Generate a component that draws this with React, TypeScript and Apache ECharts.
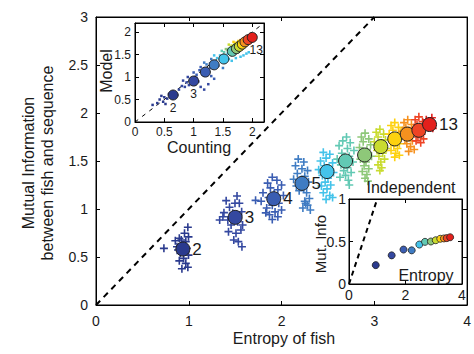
import React, { useEffect, useRef } from "react";
import * as echarts from "echarts";

// ---------- data ----------
const clusterIds = [2, 3, 4, 5, 6, 7, 8, 9, 10, 11, 12, 13];
const clusterColors = [
  "#2a3a8e", "#3448a0", "#3a5db2", "#3f7cc3", "#44c3ea", "#62c9b4",
  "#8ec879", "#c9db30", "#fdd10f", "#f6911f", "#ee4425", "#e3201c",
];
const labeledMain = [2, 3, 4, 5, 13];
const labeledInset = [2, 3, 13];

// main panel: cluster means (entropy of fish, mutual information)
const meanEntropy = [0.936, 1.5, 1.916, 2.22, 2.49, 2.69, 2.895, 3.07, 3.22, 3.355, 3.48, 3.595];
const meanMI = [0.583, 0.913, 1.107, 1.267, 1.39, 1.5, 1.5625, 1.65, 1.73, 1.78, 1.82, 1.88];

// top-left inset: counting vs model
const countingMI = [0.65, 1.0, 1.2, 1.35, 1.515, 1.66, 1.73, 1.78, 1.83, 1.875, 1.93, 2.0];
const modelMI = [0.6, 0.91, 1.11, 1.27, 1.4, 1.57, 1.63, 1.68, 1.73, 1.78, 1.83, 1.88];

// bottom-right inset: independent model
const indepEntropy = [0.946, 1.51, 1.93, 2.22, 2.49, 2.69, 2.9, 3.07, 3.23, 3.36, 3.46, 3.58];
const indepMI = [0.222, 0.337, 0.405, 0.396, 0.464, 0.496, 0.5, 0.515, 0.532, 0.536, 0.54, 0.55];

// main panel: individual samples (plus markers)
const samples2 = [[0.99, 0.81], [0.954, 0.747], [0.898, 0.695], [0.855, 0.67], [0.997, 0.71], [0.968, 0.66], [0.926, 0.625], [0.873, 0.607], [0.979, 0.59], [0.909, 0.538], [0.997, 0.52], [0.944, 0.486], [0.898, 0.46], [0.968, 0.434], [0.926, 0.378], [0.99, 0.393], [0.884, 0.573], [0.962, 0.555], [0.919, 0.677], [0.732, 0.59]];
const samples3 = [[1.403, 1.087], [1.52, 1.135], [1.545, 1.06], [1.439, 1.018], [1.379, 0.962], [1.333, 0.885], [1.474, 0.955], [1.57, 0.972], [1.421, 0.885], [1.527, 0.868], [1.58, 0.833], [1.456, 0.833], [1.428, 0.764], [1.509, 0.747], [1.562, 0.781], [1.485, 0.677], [1.573, 0.607], [1.534, 0.66], [1.368, 0.92], [1.498, 1.06]];
const samples4 = [[1.9, 1.33], [1.95, 1.3], [1.85, 1.27], [2.0, 1.25], [1.88, 1.22], [1.96, 1.2], [1.8, 1.17], [1.92, 1.16], [2.02, 1.14], [1.86, 1.12], [1.78, 1.08], [1.97, 1.06], [1.9, 1.04], [1.84, 1.01], [2.0, 0.99], [1.93, 0.97], [1.87, 0.94], [1.96, 0.92], [1.9, 0.89], [1.83, 0.96], [1.72, 1.09]];
const samples5 = [[2.18, 1.52], [2.24, 1.49], [2.15, 1.45], [2.22, 1.42], [2.28, 1.4], [2.17, 1.37], [2.25, 1.34], [2.13, 1.31], [2.21, 1.3], [2.29, 1.28], [2.16, 1.24], [2.24, 1.22], [2.19, 1.19], [2.27, 1.17], [2.3, 1.11], [2.25, 1.08], [2.28, 1.04], [2.23, 1.01], [2.31, 0.99], [2.26, 1.06]];
const samples6 = [[2.45, 1.59], [2.52, 1.57], [2.48, 1.53], [2.42, 1.5], [2.55, 1.48], [2.46, 1.45], [2.51, 1.43], [2.4, 1.41], [2.56, 1.38], [2.44, 1.35], [2.5, 1.32], [2.47, 1.28], [2.53, 1.25], [2.49, 1.21], [2.45, 1.17], [2.52, 1.14], [2.48, 1.1], [2.55, 1.12], [2.43, 1.24]];
const samples7 = [[2.7, 1.75], [2.66, 1.71], [2.74, 1.69], [2.62, 1.66], [2.71, 1.63], [2.78, 1.61], [2.65, 1.58], [2.73, 1.55], [2.6, 1.52], [2.77, 1.49], [2.64, 1.46], [2.71, 1.43], [2.67, 1.4], [2.75, 1.38], [2.69, 1.35], [2.63, 1.33], [2.72, 1.3], [2.73, 1.25]];
const samples8 = [[2.9, 1.79], [2.86, 1.75], [2.94, 1.73], [2.88, 1.7], [2.96, 1.67], [2.84, 1.64], [2.92, 1.62], [2.87, 1.58], [2.97, 1.55], [2.85, 1.52], [2.91, 1.49], [2.89, 1.45], [2.94, 1.42], [2.87, 1.39], [2.92, 1.36], [2.9, 1.32], [2.93, 1.29]];
const samples9 = [[3.06, 1.83], [3.02, 1.8], [3.1, 1.78], [3.04, 1.75], [3.12, 1.72], [3.0, 1.7], [3.08, 1.68], [3.13, 1.63], [3.03, 1.61], [3.09, 1.58], [3.05, 1.55], [3.11, 1.52], [3.07, 1.49], [3.04, 1.46], [3.08, 1.43], [3.06, 1.4]];
const samples10 = [[3.22, 1.9], [3.18, 1.87], [3.26, 1.85], [3.2, 1.82], [3.28, 1.8], [3.16, 1.78], [3.24, 1.76], [3.19, 1.7], [3.27, 1.68], [3.21, 1.66], [3.25, 1.63], [3.18, 1.61], [3.23, 1.58], [3.27, 1.56], [3.22, 1.54]];
const samples11 = [[3.36, 1.93], [3.32, 1.9], [3.4, 1.88], [3.34, 1.85], [3.42, 1.83], [3.3, 1.81], [3.38, 1.76], [3.33, 1.73], [3.41, 1.71], [3.35, 1.68], [3.39, 1.65], [3.43, 1.62], [3.37, 1.6]];
const samples12 = [[3.48, 1.96], [3.44, 1.93], [3.52, 1.91], [3.46, 1.88], [3.54, 1.86], [3.43, 1.84], [3.51, 1.78], [3.47, 1.75], [3.53, 1.73], [3.45, 1.71], [3.5, 1.69]];
const samples13 = [[3.56, 1.93], [3.62, 1.95], [3.58, 1.85], [3.63, 1.84]];
const samples = [samples2, samples3, samples4, samples5, samples6, samples7, samples8, samples9, samples10, samples11, samples12, samples13];

// top-left inset: individual (counting, model) estimates
const insetDots2 = [[0.3, 0.38], [0.38, 0.42], [0.42, 0.5], [0.48, 0.45], [0.5, 0.55], [0.55, 0.52], [0.58, 0.62], [0.62, 0.55], [0.68, 0.66], [0.72, 0.6], [0.45, 0.58], [0.52, 0.4]];
const insetDots3 = [[0.75, 0.72], [0.8, 0.8], [0.85, 0.78], [0.88, 0.88], [0.92, 0.82], [0.95, 0.96], [1.0, 0.86], [1.05, 0.98], [1.08, 0.9], [1.12, 0.78], [0.9, 1.0], [0.82, 0.92], [1.18, 0.72], [1.25, 0.84]];
const insetDots4 = [[1.05, 1.05], [1.1, 1.15], [1.15, 1.05], [1.2, 1.18], [1.25, 1.08], [1.28, 1.2], [1.12, 1.22], [1.3, 1.02], [1.0, 1.1], [1.35, 0.96]];
const insetDots5 = [[1.22, 1.28], [1.28, 1.3], [1.32, 1.22], [1.38, 1.34], [1.42, 1.25], [1.45, 1.38], [1.3, 1.4], [1.5, 1.2], [1.18, 1.32]];
const insetDots6 = [[1.4, 1.42], [1.45, 1.48], [1.5, 1.36], [1.55, 1.46], [1.6, 1.4], [1.35, 1.48], [1.65, 1.36], [1.72, 1.42], [1.8, 1.45], [1.85, 1.48], [1.58, 1.52], [1.9, 1.52], [1.94, 1.55]];
const insetDots7 = [[1.52, 1.55], [1.58, 1.6], [1.62, 1.52], [1.68, 1.62], [1.75, 1.55], [1.48, 1.58]];
const insetDots8 = [[1.6, 1.63], [1.65, 1.68], [1.7, 1.6], [1.55, 1.62]];
const insetDots9 = [[1.65, 1.7], [1.7, 1.74], [1.75, 1.66], [1.6, 1.72]];
const insetDots10 = [[1.72, 1.76], [1.76, 1.8], [1.8, 1.7], [1.68, 1.78]];
const insetDots11 = [[1.8, 1.82], [1.85, 1.78]];
const insetDots12 = [[1.88, 1.86]];
const insetDots13 = [[1.95, 1.9]];
const insetDots = [insetDots2, insetDots3, insetDots4, insetDots5, insetDots6, insetDots7, insetDots8, insetDots9, insetDots10, insetDots11, insetDots12, insetDots13];

// ---------- chart ----------
const FONT = "Liberation Sans, Arial, Helvetica, sans-serif";
const TXT = "#1a1a1a";
const PLUS = "path://M4,0H6V4H10V6H6V10H4V6H0V4H4Z";

function boxAxes(gridIndex: number, min: number, max: number, interval: number, kind: "x" | "y", z: number) {
  const base = {
    gridIndex,
    type: "value",
    min,
    max,
    interval,
    z,
    splitLine: { show: false },
    axisLine: { show: true, onZero: false, lineStyle: { color: "#000", width: 1 } },
    axisTick: { show: true, inside: true, length: 4, lineStyle: { color: "#000" } },
  };
  return [
    { ...base, position: kind === "x" ? "bottom" : "left" },
    { ...base, position: kind === "x" ? "top" : "right", axisLabel: { show: false } },
  ];
}

export default function App() {
  const ref = useRef<HTMLDivElement>(null);
  useEffect(() => {
    if (!ref.current) return;
    const chart = echarts.init(ref.current, undefined, { renderer: "svg" });

    const xAxes: any[] = [];
    const yAxes: any[] = [];
    const mx = boxAxes(0, 0, 4, 1, "x", 0);
    (mx[0] as any).axisLabel = { color: TXT, fontSize: 14, margin: 9, fontFamily: FONT };
    const my = boxAxes(0, 0, 3, 0.5, "y", 0);
    (my[0] as any).axisLabel = { color: TXT, fontSize: 14, margin: 8, fontFamily: FONT };
    const tx = boxAxes(1, 0, 2.2, 0.5, "x", 10);
    (tx[0] as any).axisLabel = { color: TXT, fontSize: 12, margin: 4, fontFamily: FONT, showMaxLabel: false };
    const ty = boxAxes(1, 0, 2.2, 0.5, "y", 10);
    (ty[0] as any).axisLabel = { color: TXT, fontSize: 12, margin: 4, fontFamily: FONT, showMaxLabel: false };
    const bx = boxAxes(2, 0, 4, 2, "x", 10);
    (bx[0] as any).axisLabel = { color: TXT, fontSize: 14, margin: 4, fontFamily: FONT };
    const by = boxAxes(2, 0, 1, 0.5, "y", 10);
    (by[0] as any).axisLabel = { color: TXT, fontSize: 14, margin: 3, fontFamily: FONT };
    xAxes.push(...mx, ...tx, ...bx);
    yAxes.push(...my, ...ty, ...by);

    const series: any[] = [];
    series.push({
      type: "line",
      xAxisIndex: 0,
      yAxisIndex: 0,
      data: [[0, 0], [3, 3]],
      showSymbol: false,
      lineStyle: { color: "#000", width: 2, type: [6, 5] },
      z: 1,
    });
    samples.forEach((pts, i) => {
      series.push({
        type: "scatter",
        xAxisIndex: 0,
        yAxisIndex: 0,
        data: pts,
        symbol: PLUS,
        symbolSize: 8,
        itemStyle: { color: clusterColors[i], opacity: 1 },
        z: 2,
      });
    });
    series.push({
      type: "scatter",
      xAxisIndex: 0,
      yAxisIndex: 0,
      z: 3,
      symbolSize: 14,
      data: meanEntropy.map((x, i) => ({
        value: [x, meanMI[i]],
        itemStyle: { color: clusterColors[i], borderColor: "#222", borderWidth: 1, opacity: 1 },
        label: {
          show: labeledMain.includes(clusterIds[i]),
          formatter: String(clusterIds[i]),
          position: "right",
          distance: 2,
          fontSize: 17,
          color: TXT,
          opacity: 1,
          fontFamily: FONT,
        },
      })),
    });

    series.push({
      type: "line",
      xAxisIndex: 2,
      yAxisIndex: 2,
      data: [[0, 0], [2.2, 2.2]],
      showSymbol: false,
      lineStyle: { color: "#000", width: 1, type: [4, 5] },
      z: 11,
    });
    insetDots.forEach((pts, i) => {
      series.push({
        type: "scatter",
        xAxisIndex: 2,
        yAxisIndex: 2,
        data: pts,
        symbol: "rect",
        symbolSize: 2.5,
        itemStyle: { color: clusterColors[i], opacity: 1 },
        z: 12,
      });
    });
    series.push({
      type: "scatter",
      xAxisIndex: 2,
      yAxisIndex: 2,
      z: 13,
      symbolSize: 10,
      data: countingMI.map((x, i) => ({
        value: [x, modelMI[i]],
        itemStyle: { color: clusterColors[i], borderColor: "#222", borderWidth: 1, opacity: 1 },
        label: {
          show: labeledInset.includes(clusterIds[i]),
          formatter: String(clusterIds[i]),
          position: "bottom",
          distance: 1,
          offset: clusterIds[i] === 13 ? [4, 0] : [0, 0],
          fontSize: 12,
          color: TXT,
          fontFamily: FONT,
        },
      })),
    });

    series.push({
      type: "line",
      xAxisIndex: 4,
      yAxisIndex: 4,
      data: [[0, 0], [1, 1]],
      showSymbol: false,
      lineStyle: { color: "#000", width: 2, type: [5, 4] },
      z: 11,
    });
    series.push({
      type: "scatter",
      xAxisIndex: 4,
      yAxisIndex: 4,
      z: 13,
      symbolSize: 7,
      data: indepEntropy.map((x, i) => ({
        value: [x, indepMI[i]],
        itemStyle: { color: clusterColors[i], borderColor: "#222", borderWidth: 0.8, opacity: 1 },
      })),
    });

    chart.setOption({
      animation: false,
      backgroundColor: "#fff",
      textStyle: { fontFamily: FONT },
      grid: [
        { left: 96, top: 17, width: 376, height: 288, show: true, backgroundColor: "#fff", borderColor: "#000", borderWidth: 1, z: 0 },
        { left: 135, top: 23, width: 129, height: 99, show: true, backgroundColor: "#fff", borderColor: "#000", borderWidth: 1, z: 10 },
        { left: 349, top: 199, width: 113, height: 85, show: true, backgroundColor: "#fff", borderColor: "#000", borderWidth: 1, z: 10 },
      ],
      xAxis: xAxes,
      yAxis: yAxes,
      series,
      graphic: [
        {
          type: "text",
          x: 38,
          y: 163,
          rotation: Math.PI / 2,
          style: {
            text: "Mutual Information\nbetween fish and sequence",
            align: "center",
            verticalAlign: "middle",
            fontSize: 16,
            lineHeight: 19,
            fill: TXT,
            fontFamily: FONT,
          },
        },
        { type: "text", x: 284, y: 338, style: { text: "Entropy of fish", align: "center", verticalAlign: "middle", fontSize: 16, fill: TXT, fontFamily: FONT } },
        { type: "text", x: 106, y: 71, rotation: Math.PI / 2, z: 20, style: { text: "Model", align: "center", verticalAlign: "middle", fontSize: 16, fill: TXT, fontFamily: FONT } },
        { type: "text", x: 199, y: 147, z: 20, style: { text: "Counting", align: "center", verticalAlign: "middle", fontSize: 16, fill: TXT, fontFamily: FONT } },
        { type: "text", x: 320, y: 244, rotation: Math.PI / 2, z: 20, style: { text: "Mut. Info", align: "center", verticalAlign: "middle", fontSize: 15, fill: TXT, fontFamily: FONT } },
        { type: "text", x: 426, y: 275, z: 20, style: { text: "Entropy", align: "center", verticalAlign: "middle", fontSize: 16, fill: TXT, fontFamily: FONT } },
        { type: "text", x: 411, y: 187, z: 20, style: { text: "Independent", align: "center", verticalAlign: "middle", fontSize: 16, fill: TXT, fontFamily: FONT } },
      ],
    });
    return () => chart.dispose();
  }, []);
  return <div ref={ref} style={{ position: "fixed", left: 0, top: 0, width: 474, height: 354 }} />;
}
